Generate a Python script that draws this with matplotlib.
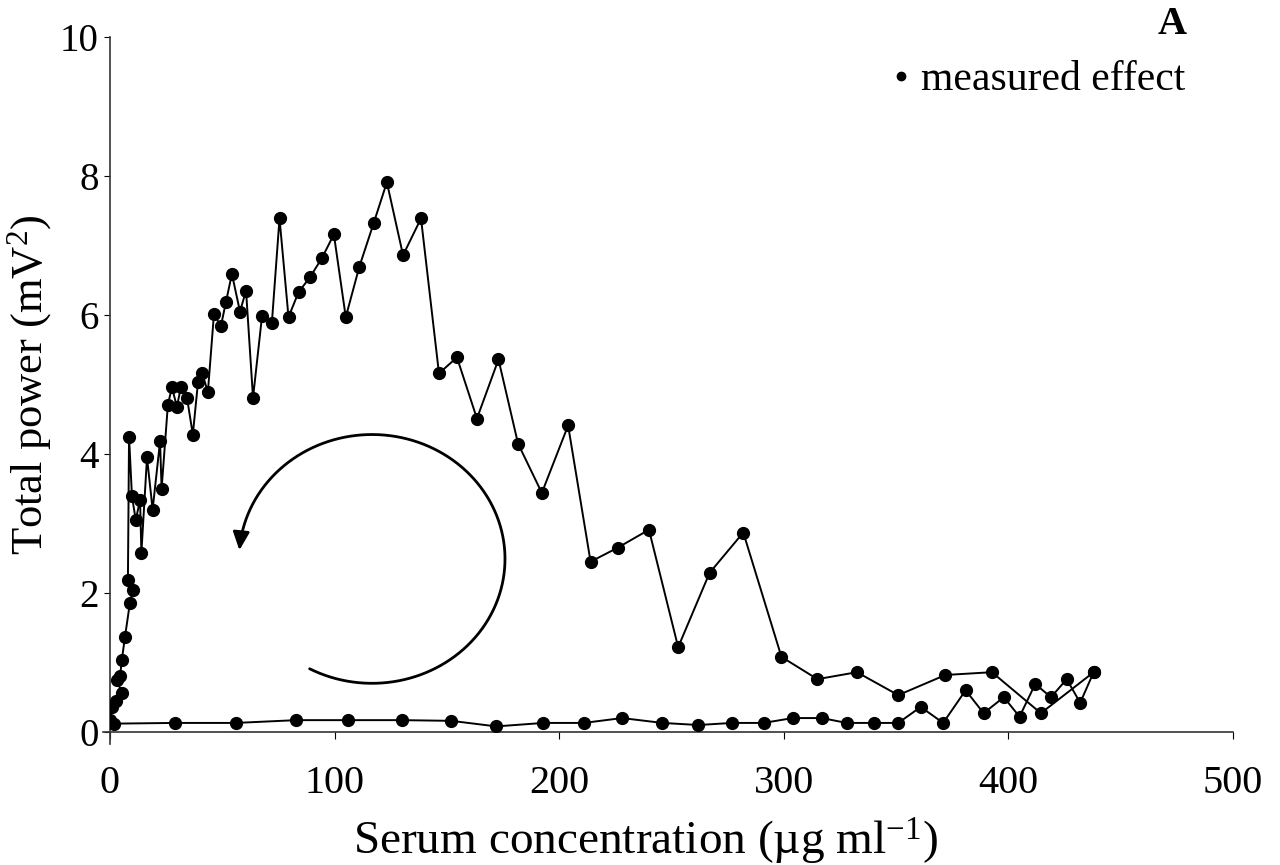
import numpy as np
import matplotlib
matplotlib.use("Agg")
import matplotlib.pyplot as plt
from matplotlib.lines import Line2D
from matplotlib.patches import FancyArrowPatch
from matplotlib.path import Path

plt.rcParams["font.family"] = ["Liberation Serif", "DejaVu Serif"]
plt.rcParams["mathtext.fontset"] = "custom"
plt.rcParams["mathtext.rm"] = "Liberation Serif"
plt.rcParams["mathtext.it"] = "Liberation Serif:italic"

# rising concentration branch (low effect)
conc_rise = [0, 2, 29, 56, 83, 106, 130, 152, 172, 193, 211, 228, 246, 262, 277,
             291, 304, 317, 328, 340, 351, 361, 371, 381, 389, 398, 405, 412, 419,
             426, 432, 438]
effect_rise = [0.15, 0.12, 0.13, 0.13, 0.17, 0.17, 0.17, 0.16, 0.08, 0.13, 0.13,
               0.2, 0.13, 0.1, 0.13, 0.13, 0.2, 0.2, 0.13, 0.13, 0.13, 0.36, 0.13,
               0.6, 0.27, 0.5, 0.22, 0.69, 0.5, 0.76, 0.42, 0.86]

# falling concentration branch (high effect)
conc_fall = [438, 414.5, 392.7, 372, 351, 332.6, 315, 299, 282, 267, 253, 240, 226,
             214, 204, 192.3, 181.7, 173, 163.4, 154.5, 146.5, 138.5, 130.5, 123.3,
             117.5, 111, 105, 99.7, 94.4, 89, 84, 79.5, 75.5, 72.1, 67.7, 63.7, 60.6,
             57.9, 54.3, 51.6, 49.4, 46.3, 43.6, 41, 39.2, 36.9, 34.3, 31.6, 29.8,
             27.6, 25.8, 23, 22.3, 19, 16.5, 14, 13.4, 11.5, 9.8, 8.5, 8, 10.2, 8.9,
             6.7, 5.3, 4.5, 3.1, 5.3, 2.5, 0.9, 0]
effect_fall = [0.86, 0.27, 0.86, 0.82, 0.53, 0.86, 0.76, 1.08, 2.87, 2.29, 1.22,
               2.91, 2.65, 2.45, 4.41, 3.44, 4.15, 5.36, 4.51, 5.39, 5.16, 7.39, 6.86,
               7.91, 7.33, 6.69, 5.97, 7.16, 6.82, 6.54, 6.33, 5.97, 7.39, 5.89, 5.98,
               4.81, 6.35, 6.05, 6.59, 6.18, 5.84, 6.01, 4.89, 5.17, 5.03, 4.28, 4.81,
               4.96, 4.68, 4.96, 4.71, 3.5, 4.18, 3.2, 3.95, 2.58, 3.34, 3.05, 3.39,
               4.25, 2.19, 2.05, 1.86, 1.37, 1.04, 0.8, 0.75, 0.56, 0.45, 0.36, 0.17]

x_ticks = [0, 100, 200, 300, 400, 500]
y_ticks = [0, 2, 4, 6, 8, 10]

fig = plt.figure(figsize=(12.8, 8.65), dpi=100)
ax = fig.add_axes([0.0859, 0.1538, 0.8773, 0.8034])

for xs, ys in ((conc_rise, effect_rise), (conc_fall, effect_fall)):
    ax.plot(xs, ys, color="black", lw=1.4, marker="o", ms=8.5, mfc="black",
            mec="black", zorder=3)

# hysteresis arrow (annotation only)
theta = np.radians(np.linspace(-118, 176, 120))
ax_x = 116.7 + 59.2 * np.cos(theta)
ax_y = 2.49 + 1.79 * np.sin(theta)
arrow = FancyArrowPatch(path=Path(np.column_stack([ax_x, ax_y])),
                        arrowstyle="-|>,head_length=11,head_width=5",
                        color="black", lw=2.0, shrinkA=0, shrinkB=0)
ax.add_patch(arrow)

ax.set_xlim(0, 500)
ax.set_ylim(0, 10)
ax.set_xticks(x_ticks)
ax.set_yticks(y_ticks)
ax.spines["top"].set_visible(False)
ax.spines["right"].set_visible(False)
ax.spines["left"].set_bounds(-0.18, 10)
ax.spines["bottom"].set_bounds(-3, 500)
for s in ("left", "bottom"):
    ax.spines[s].set_linewidth(1.2)
    ax.spines[s].set_color("#333333")
    ax.spines[s].set_clip_on(False)
ax.tick_params(axis="y", direction="out", length=4, pad=4, labelsize=28)
ax.tick_params(axis="x", direction="out", length=5, pad=19, labelsize=29)

fig.text(0.504, 0.027, "Serum concentration (µg ml$^{-1}$)", ha="center",
         va="center", fontsize=34)
fig.text(0.023, 0.555, "Total power (mV$^{2}$)", ha="center", va="center",
         rotation=90, fontsize=32)
fig.text(0.927, 0.972, "A", ha="right", va="center", fontsize=29,
         fontweight="bold")

handle = Line2D([], [], color="black", marker="o", ls="none", ms=6)
ax.legend([handle], ["measured effect"], loc="center right",
          bbox_to_anchor=(0.958, 0.938), frameon=False, fontsize=30,
          handlelength=0.4, handletextpad=0.3, borderpad=0, borderaxespad=0)

fig.savefig("out.png", dpi=100)
